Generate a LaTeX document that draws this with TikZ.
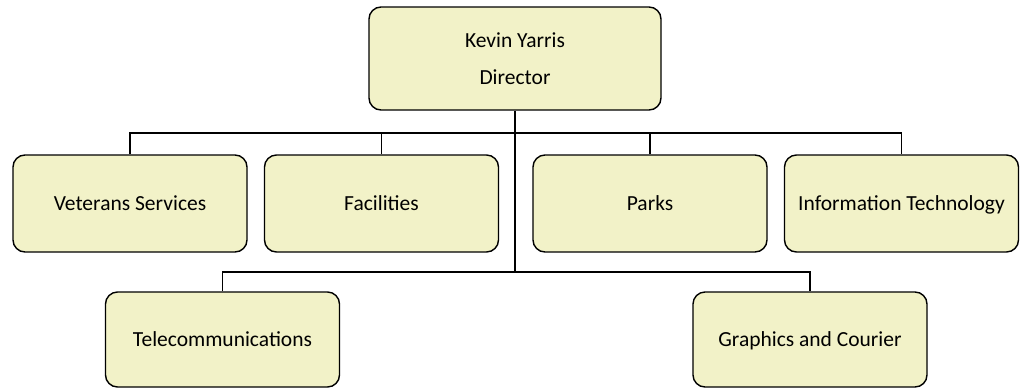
\documentclass[tikz,border=0pt]{standalone}
\usepackage{fontspec}
\setmainfont{Carlito}
\definecolor{boxfill}{HTML}{F2F2C8}
\begin{document}
\begin{tikzpicture}[x=1pt,y=-1pt,
  unit/.style={draw=black, line width=1.4pt, fill=boxfill, rounded corners=12pt,
    minimum width=234pt, minimum height=97pt, inner sep=0pt, align=center,
    font=\fontsize{21.5}{26}\selectfont, text=black},
  oneline/.style={text height=15pt, text depth=1pt},
  link/.style={draw=black, line width=1.3pt}]
\useasboundingbox (0,0) rectangle (1023,389);

\node[unit, minimum width=292pt, minimum height=103pt] (dir) at (515,58.5)
  {\raisebox{-2pt}{Kevin Yarris}\\[13pt]Director};

\node[unit, oneline] (vet)   at (130,203.5)   {Veterans Services};
\node[unit, oneline] (fac)   at (381.5,203.5) {Facilities};
\node[unit, oneline] (parks) at (650,203.5)   {Parks};
\node[unit, oneline] (it)    at (901.5,203.5) {Information Technology};

\node[unit, oneline, minimum height=95pt] (tel) at (222.5,339.5) {Telecommunications};
\node[unit, oneline, minimum height=95pt] (gra) at (810,339.5)   {Graphics and Courier};

\coordinate (busA) at (515,133);
\coordinate (busB) at (515,272);

\draw[link] (dir.south) -- (busB);
\draw[link] (vet.north) |- (busA) -| (it.north);
\draw[link] (fac.north) -- (fac.north |- busA);
\draw[link] (parks.north) -- (parks.north |- busA);
\draw[link] (tel.north) |- (busB) -| (gra.north);
\end{tikzpicture}
\end{document}
